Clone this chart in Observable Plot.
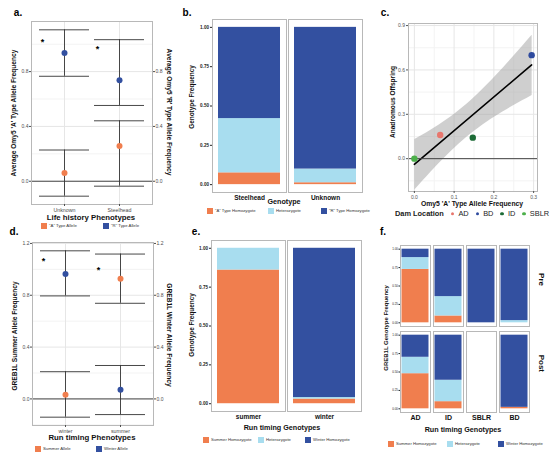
<!DOCTYPE html>
<html>
<head>
<meta charset="utf-8">
<script src="https://cdn.jsdelivr.net/npm/d3@7"></script>
<script src="https://cdn.jsdelivr.net/npm/@observablehq/plot@0.6"></script>
<style>
body{margin:0;background:#fff;font-family:"Liberation Sans",Arial,sans-serif;}
#fig{position:relative;width:550px;height:455px;overflow:hidden;background:#fff;}
.abs{position:absolute;white-space:nowrap;line-height:1;}
#fig svg{position:absolute;overflow:visible;}
</style>
</head>
<body>
<div id="fig"></div>
<script>
// ---------- DATA ----------
// a. Omy5 allele frequencies by life history
const lifeHistory = ["Unknown", "Steelhead"];
const omyAMean = [0.06, 0.257];
const omyALow = [-0.109, -0.036];
const omyAHigh = [0.228, 0.441];
const omyRMean = [0.935, 0.737];
const omyRLow = [0.766, 0.553];
const omyRHigh = [1.105, 1.033];
const omyStarY = [1.03, 0.98];
const omySeries = ["\"A\" Type Allele", "\"R\" Type Allele"];
const alleleTicks = [0, 0.4, 0.8];

// b. Omy5 genotype frequency
const omyPop = ["Steelhead", "Unknown"];
const omyGenotypes = ["\"A\" Type Homozygote", "Heterozygote", "\"R\" Type Homozygote"];
const omyAHom = [0.075, 0.012];
const omyHet = [0.345, 0.087];
const omyRHom = [0.58, 0.901];

// c. Anadromous offspring vs Omy5 A frequency
const damLocation = ["AD", "BD", "ID", "SBLR"];
const damAFreq = [0.065, 0.295, 0.147, 0.0];
const damAnadromous = [0.16, 0.70, 0.142, 0.0];

// d. GREB1L allele frequencies by run timing
const runPheno = ["winter", "summer"];
const summerMean = [0.033, 0.928];
const summerLow = [-0.141, 0.738];
const summerHigh = [0.21, 1.118];
const winterMean = [0.964, 0.071];
const winterLow = [0.795, -0.121];
const winterHigh = [1.143, 0.258];
const grebStarY = [1.08, 1.01];
const grebSeries = ["Summer  Allele", "Winter Allele"];
const grebTicks = [0, 0.4, 0.8, 1.2];

// e. GREB1L genotype frequency
const runGeno = ["summer", "winter"];
const grebGenotypes = ["Summer Homozygote", "Heterozygote", "Winter Homozygote"];
const grebSumHom = [0.86, 0.03];
const grebHet = [0.14, 0.01];
const grebWinHom = [0.0, 0.96];

// f. GREB1L genotype by dam location, pre/post
const fLocation = ["AD", "ID", "SBLR", "BD"];
const fPeriod = ["Pre", "Post"];
const preSumHom = [0.725, 0.093, 0, 0];
const preHet = [0.161, 0.263, 0, 0.03];
const preWinHom = [0.114, 0.644, 1, 0.97];
const postSumHom = [0.477, 0.097, 0, 0.02];
const postHet = [0.223, 0.291, 0, 0];
const postWinHom = [0.30, 0.612, 0, 0.98];

const freqTicks = [0, 0.25, 0.5, 0.75, 1];

// ---------- STYLE ----------
const ORANGE = "#F07E4E", LIGHTBLUE = "#A8DDEF", BLUE = "#3350A0";
const FONT = "Liberation Sans, Arial, sans-serif";
const fig = document.getElementById("fig");

function put(el, left, top) {
  el.style.left = left + "px"; el.style.top = top + "px";
  fig.appendChild(el);
}
function txt(s, x, y, o = {}) {
  const d = document.createElement("div");
  d.className = "abs";
  d.textContent = s;
  d.style.fontSize = (o.size || 7) + "px";
  d.style.fontWeight = o.weight || "normal";
  d.style.color = o.color || "#000";
  const rot = o.rot || 0;
  d.style.transform = `translate(-50%,-50%) rotate(${rot}deg)`;
  put(d, x, y);
  return d;
}
function legend(x, y, labels, colors, widths, size = 4.6) {
  const d = document.createElement("div");
  d.className = "abs";
  d.style.display = "flex";
  d.style.alignItems = "center";
  d.style.transform = "translateY(-50%)";
  labels.forEach((l, i) => {
    const it = document.createElement("div");
    it.style.display = "flex"; it.style.alignItems = "center";
    it.style.width = widths[i] + "px";
    const sq = document.createElement("span");
    sq.style.cssText = `display:inline-block;width:6px;height:6px;background:${colors[i]};margin-right:2px;`;
    const t = document.createElement("span");
    t.textContent = l; t.style.fontSize = size + "px"; t.style.color = "#333";
    it.appendChild(sq); it.appendChild(t);
    d.appendChild(it);
  });
  put(d, x, y);
}
function place(svg, left, top) {
  svg.style.left = left + "px"; svg.style.top = top + "px";
  fig.appendChild(svg);
}

// ---------- ERROR-BAR PANELS (a, d) ----------
function errorPanel(cats, m1, lo1, hi1, m2, lo2, hi2, starY, series, ticks, dims) {
  const rows = cats.flatMap((c, i) => [
    {cat: c, s: series[0], m: m1[i], lo: lo1[i], hi: hi1[i]},
    {cat: c, s: series[1], m: m2[i], lo: lo2[i], hi: hi2[i]}
  ]);
  const lo = d3.min(rows, d => d.lo), hi = d3.max(rows, d => d.hi), pad = (hi - lo) * 0.05;
  const stars = cats.map((c, i) => ({cat: c, y: starY[i]}));
  const step = ticks[1] - ticks[0];
  const minor = d3.range(ticks[0] - step / 2, hi + pad, step).filter(v => v > lo - pad);
  return Plot.plot({
    ...dims,
    style: {fontFamily: FONT, fontSize: "5px", color: "#4d4d4d", background: "transparent"},
    x: {domain: cats, paddingInner: 0.09, paddingOuter: 0.145},
    y: {domain: [lo - pad, hi + pad]},
    color: {domain: series, range: [ORANGE, BLUE]},
    marks: [
      Plot.gridY(minor, {stroke: "#f3f3f3", strokeOpacity: 1}),
      Plot.gridY(ticks, {stroke: "#e6e6e6", strokeOpacity: 1}),
      Plot.gridX({stroke: "#e6e6e6", strokeOpacity: 1}),
      Plot.ruleY([0], {stroke: "#333", strokeWidth: 0.9}),
      Plot.ruleX(rows, {x: "cat", y1: "lo", y2: "hi", stroke: "#333", strokeWidth: 0.9}),
      Plot.tickY(rows, {x: "cat", y: "lo", stroke: "#333", strokeWidth: 0.9}),
      Plot.tickY(rows, {x: "cat", y: "hi", stroke: "#333", strokeWidth: 0.9}),
      Plot.dot(rows, {x: "cat", y: "m", fill: "s", r: 3}),
      Plot.text(stars, {x: "cat", y: "y", text: () => "*", dx: -22, dy: 2.5, fontSize: 9, fontWeight: "bold", fill: "#000"}),
      Plot.frame({stroke: "#b8b8b8"}),
      Plot.axisY(ticks, {anchor: "left", tickSize: 2, tickPadding: 1, tickFormat: ".1f", label: null, fontSize: 5}),
      Plot.axisY(ticks, {anchor: "right", tickSize: 2, tickPadding: 1, tickFormat: ".1f", label: null, fontSize: 5}),
      Plot.axisX({anchor: "bottom", tickSize: 2, tickPadding: 1.5, label: null, fontSize: 5.3})
    ]
  });
}

// ---------- STACKED GENOTYPE PANELS (b, e) ----------
function stackPanel(pops, genos, s1, s2, s3, dims) {
  const rows = pops.flatMap((p, i) => [
    {pop: p, g: genos[0], v: s1[i]},
    {pop: p, g: genos[1], v: s2[i]},
    {pop: p, g: genos[2], v: s3[i]}
  ]);
  return Plot.plot({
    ...dims,
    style: {fontFamily: FONT, fontSize: "4.6px", color: "#222", background: "transparent"},
    fx: {domain: pops, paddingInner: 0.03, paddingOuter: 0},
    y: {domain: [-0.05, 1.05]},
    color: {domain: genos, range: [ORANGE, LIGHTBLUE, BLUE]},
    marks: [
      Plot.barY(rows, Plot.stackY({fx: "pop", y: "v", fill: "g", order: genos, insetLeft: 6, insetRight: 6})),
      Plot.frame({stroke: "#b8b8b8"}),
      Plot.axisY(freqTicks, {tickSize: 2, tickPadding: 1.5, tickFormat: ".2f", label: null, fontSize: 4.6, fontWeight: "bold"}),
      Plot.axisFx({anchor: "bottom", tickSize: 0, tickPadding: 3, label: null, fontSize: 6.5, fontWeight: "bold", fill: "#111"})
    ]
  });
}

// a.
place(errorPanel(lifeHistory, omyAMean, omyALow, omyAHigh, omyRMean, omyRLow, omyRHigh, omyStarY, omySeries, alleleTicks,
  {width: 185, height: 215, marginLeft: 31, marginRight: 33, marginTop: 21, marginBottom: 11}), 0, 0);
// d.
place(errorPanel(runPheno, summerMean, summerLow, summerHigh, winterMean, winterLow, winterHigh, grebStarY, grebSeries, grebTicks,
  {width: 185, height: 208, marginLeft: 32, marginRight: 32, marginTop: 14, marginBottom: 11}), 0, 228);
// b.
place(stackPanel(omyPop, omyGenotypes, omyAHom, omyHet, omyRHom,
  {width: 186, height: 203, marginLeft: 31, marginRight: 4, marginTop: 19, marginBottom: 11}), 180, 0);
// e.
place(stackPanel(runGeno, grebGenotypes, grebSumHom, grebHet, grebWinHom,
  {width: 186, height: 194, marginLeft: 31, marginRight: 5, marginTop: 12, marginBottom: 11}), 180, 228);

// c.
const damColors = ["#E8766D", "#2E4A9E", "#1C6B36", "#4CB04A"];
{
  const rows = damLocation.map((l, i) => ({loc: l, a: damAFreq[i], anad: damAnadromous[i]}));
  const [x0, x1] = d3.extent(rows, d => d.a), xp = (x1 - x0) * 0.05;
  const plot = Plot.plot({
    width: 190, height: 202, marginLeft: 48, marginRight: 13, marginTop: 23, marginBottom: 11,
    style: {fontFamily: FONT, fontSize: "5px", color: "#555", background: "transparent"},
    x: {domain: [x0 - xp, x1 + xp]},
    y: {domain: [-0.222, 0.914]},
    color: {domain: damLocation, range: damColors},
    marks: [
      Plot.gridX([0.05, 0.15, 0.25], {stroke: "#f3f3f3", strokeOpacity: 1}),
      Plot.gridY([-0.15, 0.15, 0.45, 0.75], {stroke: "#f3f3f3", strokeOpacity: 1}),
      Plot.gridX([0, 0.1, 0.2, 0.3], {stroke: "#e6e6e6", strokeOpacity: 1}),
      Plot.gridY([0, 0.3, 0.6, 0.9], {stroke: "#e6e6e6", strokeOpacity: 1}),
      Plot.linearRegressionY(rows, {x: "a", y: "anad", ci: 0.78, stroke: "#000", strokeWidth: 1.6, fill: "#a0a0a0", fillOpacity: 0.5}),
      Plot.ruleY([0], {stroke: "#444", strokeWidth: 1}),
      Plot.dot(rows, {x: "a", y: "anad", fill: "loc", r: 3.2}),
      Plot.frame({stroke: "#b8b8b8"}),
      Plot.axisY([0, 0.3, 0.6, 0.9], {tickSize: 2, tickPadding: 1.5, tickFormat: ".1f", label: null, fontSize: 5}),
      Plot.axisX([0, 0.1, 0.2, 0.3], {tickSize: 2, tickPadding: 1.5, tickFormat: ".1f", label: null, fontSize: 5})
    ]
  });
  place(plot, 360, 0);
}

// f.
{
  const seriesF = {
    Pre: [preSumHom, preHet, preWinHom],
    Post: [postSumHom, postHet, postWinHom]
  };
  const rows = fPeriod.flatMap(p => fLocation.flatMap((l, i) =>
    grebGenotypes.map((g, k) => ({per: p, loc: l, g, v: seriesF[p][k][i]}))));
  const plot = Plot.plot({
    width: 190, height: 196, marginLeft: 39, marginRight: 20, marginTop: 16, marginBottom: 11,
    style: {fontFamily: FONT, fontSize: "3px", color: "#222", background: "transparent"},
    fx: {domain: fLocation, paddingInner: 0.08, paddingOuter: 0},
    fy: {domain: fPeriod, paddingInner: 0.057, paddingOuter: 0, axis: null},
    y: {domain: [-0.05, 1.05]},
    color: {domain: grebGenotypes, range: [ORANGE, LIGHTBLUE, BLUE]},
    marks: [
      Plot.barY(rows, Plot.stackY({fx: "loc", fy: "per", y: "v", fill: "g", order: grebGenotypes, insetLeft: 1.5, insetRight: 1.5})),
      Plot.frame({stroke: "#b8b8b8"}),
      Plot.axisY(freqTicks, {tickSize: 1.5, tickPadding: 1, tickFormat: ".2f", label: null, fontSize: 3}),
      Plot.axisFx({anchor: "bottom", tickSize: 0, tickPadding: 3, label: null, fontSize: 7, fontWeight: "bold", fill: "#111"}),
      Plot.text(fPeriod, {fy: d => d, fx: () => fLocation[fLocation.length - 1], text: d => d, frameAnchor: "right",
        dx: 12, rotate: 90, fontSize: 8, fontWeight: "bold", fill: "#111"})
    ]
  });
  place(plot, 360, 228);
}

// ---------- TITLES, LABELS, LEGENDS ----------
// panel letters
txt("a.", 18, 13, {size: 10, weight: "bold"});
txt("b.", 187, 13, {size: 10, weight: "bold"});
txt("c.", 385, 13, {size: 10, weight: "bold"});
txt("d.", 14, 232, {size: 10, weight: "bold"});
txt("e.", 196, 232, {size: 10, weight: "bold"});
txt("f.", 383, 232, {size: 10, weight: "bold"});

// a.
txt("Average Omy5 'A' Type Allele Frequency", 14, 113, {size: 6.6, weight: "bold", rot: -90, color: "#111"});
txt("Average Omy5 'R' Type Allele Frequency", 168.5, 112, {size: 6.6, weight: "bold", rot: 90, color: "#111"});
txt("Life  history Phenotypes", 91, 217.5, {size: 7.8, weight: "bold", color: "#111"});
legend(41, 226, omySeries, [ORANGE, BLUE], [62, 60], 4.3);

// b.
txt("Genotype Frequency", 192, 97, {size: 6.4, weight: "bold", rot: -90, color: "#111"});
txt("Genotype", 284, 202, {size: 7.2, weight: "bold", color: "#111"});
legend(207, 211, omyGenotypes, [ORANGE, LIGHTBLUE, BLUE], [61, 53, 60], 4.2);

// c.
txt("Anadromous Offspring", 393, 102, {size: 6.6, weight: "bold", rot: -90, color: "#111"});
txt("Omy5 'A' Type Allele Frequency", 472, 203.5, {size: 6.8, weight: "bold", color: "#111"});
{
  const d = document.createElement("div");
  d.className = "abs";
  d.style.display = "flex"; d.style.alignItems = "center"; d.style.transform = "translateY(-50%)";
  d.style.fontSize = "7.4px"; d.style.color = "#222";
  const h = document.createElement("span");
  h.textContent = "Dam Location"; h.style.fontWeight = "bold"; h.style.marginRight = "6px";
  d.appendChild(h);
  damLocation.forEach((l, i) => {
    const dot = document.createElement("span");
    dot.style.cssText = `display:inline-block;width:3.5px;height:3.5px;border-radius:50%;background:${damColors[i]};margin:0 4px 0 1px;`;
    const t = document.createElement("span");
    t.textContent = l; t.style.marginRight = "6px";
    d.appendChild(dot); d.appendChild(t);
  });
  put(d, 395, 214);
}

// d.
txt("GREB1L Summer Allele Frequency", 15, 336, {size: 6.6, weight: "bold", rot: -90, color: "#111"});
txt("GREB1L Winter Allele Frequency", 168.5, 335, {size: 6.6, weight: "bold", rot: 90, color: "#111"});
txt("Run  timing Phenotypes", 92, 438, {size: 7.8, weight: "bold", color: "#111"});
legend(35, 449, grebSeries, [ORANGE, BLUE], [61, 60], 4.3);

// e.
txt("Genotype Frequency", 192, 325, {size: 6.4, weight: "bold", rot: -90, color: "#111"});
txt("Run timing Genotypes", 282, 427.5, {size: 7.2, weight: "bold", color: "#111"});
legend(203, 440, grebGenotypes, [ORANGE, LIGHTBLUE, BLUE], [55, 47, 60], 4.2);

// f.
txt("GREB1L Genotype Frequency", 385.5, 328, {size: 6, weight: "bold", rot: -90, color: "#111"});
txt("Run timing Genotypes", 463, 429.5, {size: 7.2, weight: "bold", color: "#111"});
legend(388, 444, grebGenotypes, [ORANGE, LIGHTBLUE, BLUE], [59, 51, 60], 4.2);
</script>
</body>
</html>
